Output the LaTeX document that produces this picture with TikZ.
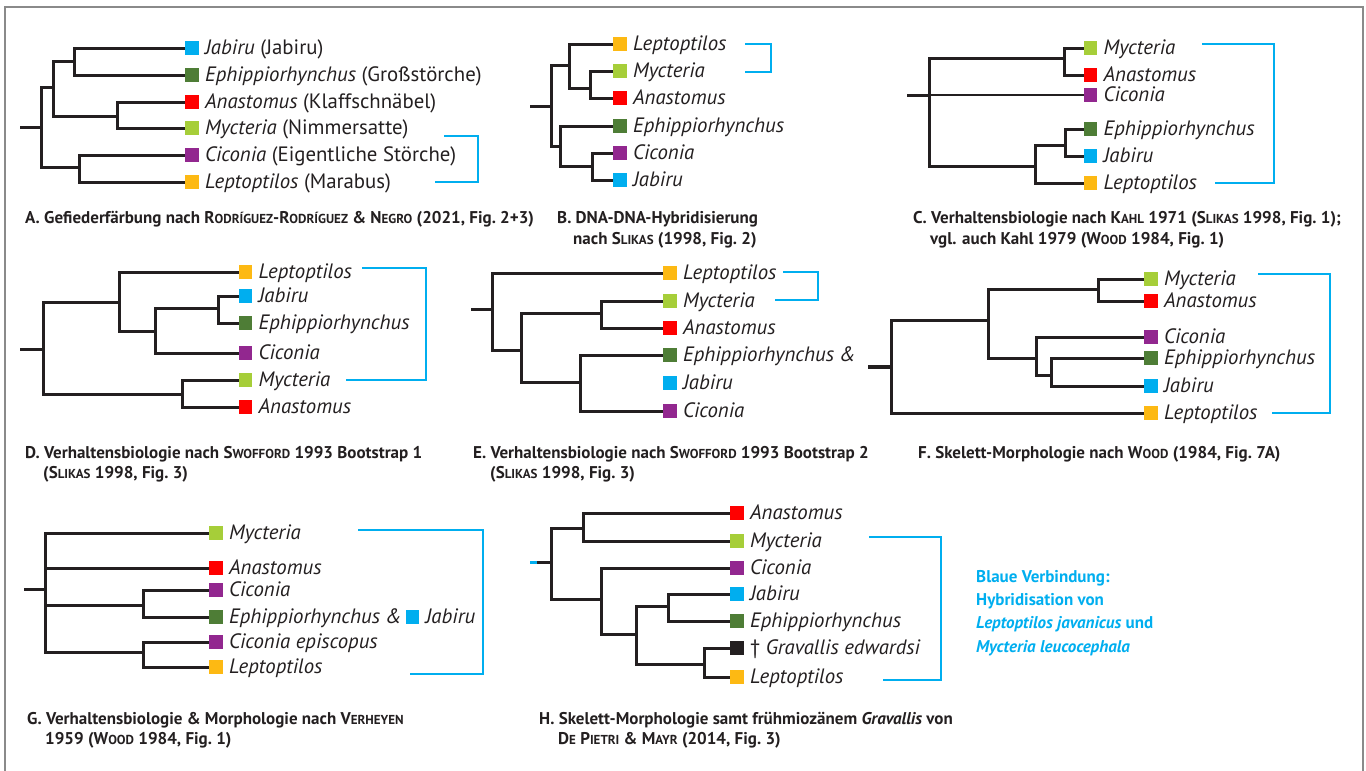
\documentclass[tikz,border=0pt]{standalone}
\usepackage{fontspec}
\setmainfont{PT Sans}
\definecolor{ink}{HTML}{231F20}
\definecolor{cjab}{HTML}{00AEEF}
\definecolor{ceph}{HTML}{4E7D36}
\definecolor{cana}{HTML}{FF0000}
\definecolor{cmyc}{HTML}{A6CE39}
\definecolor{ccic}{HTML}{92278F}
\definecolor{clep}{HTML}{FDB913}
\definecolor{cgra}{HTML}{231F20}
\definecolor{hybblue}{HTML}{00AEEF}
\definecolor{framegray}{HTML}{8A8A8A}
\newcommand\smc[2]{#1{\fontsize{13}{14}\selectfont #2}}
\begin{document}
\begin{tikzpicture}
    [
        x=1pt, y=-1pt,
        sq/.style = {minimum size=13.5pt, inner sep=0pt},
        jab/.style = {sq, fill=cjab},
        eph/.style = {sq, fill=ceph},
        ana/.style = {sq, fill=cana},
        myc/.style = {sq, fill=cmyc},
        cic/.style = {sq, fill=ccic},
        lep/.style = {sq, fill=clep},
        gra/.style = {sq, fill=cgra},
        lab/.style = {inner sep=0pt, anchor=base west, text=ink, font=\fontsize{20.8}{22}\selectfont\itshape},
        br/.style = {line width=3pt, draw=ink},
        hyb/.style = {line width=2.8pt, draw=hybblue},
        capt/.style = {inner sep=0pt, anchor=base west, text=ink, font=\fontsize{17}{20}\selectfont\bfseries},
        legende/.style = {capt, text=hybblue}
    ]
    \useasboundingbox (0,0) rectangle (1366,771);
    \draw[framegray, line width=2pt] (5,771) -- (5,7) -- (1363,7) -- (1363,771);

    % A
    \node[jab] (aJab) at (192,48) {};
    \node[eph] (aEph) at (192,75) {};
    \node[ana] (aAna) at (192,102) {};
    \node[myc] (aMyc) at (192,128) {};
    \node[cic] (aCic) at (192,155) {};
    \node[lep] (aLep) at (192,182) {};
    \node[lab] (aJabT) at ([xshift=6pt]aJab.south east) {Jabiru {\upshape(Jabiru)}};
    \node[lab] (aEphT) at ([xshift=6pt]aEph.south east) {Ephippiorhynchus {\upshape(Großstörche)}};
    \node[lab] (aAnaT) at ([xshift=6pt]aAna.south east) {Anastomus {\upshape(Klaffschnäbel)}};
    \node[lab] (aMycT) at ([xshift=6pt]aMyc.south east) {Mycteria {\upshape(Nimmersatte)}};
    \node[lab] (aCicT) at ([xshift=6pt]aCic.south east) {Ciconia {\upshape(Eigentliche Störche)}};
    \node[lab] (aLepT) at ([xshift=6pt]aLep.south east) {Leptoptilos {\upshape(Marabus)}};
    \coordinate (a0) at (20,127);
    \coordinate (aR) at (41,127);
    \coordinate (a1) at (53,87);
    \coordinate (a2) at (74,61);
    \coordinate (a3) at (117,116);
    \coordinate (a4) at (79,167);
    \draw[br] (a0) -- (aR);
    \draw[br] (aR) |- (a1);
    \draw[br] (aR) |- (a4);
    \draw[br] (a1) |- (a2);
    \draw[br] (a1) |- (a3);
    \draw[br] (a2) |- (aJab);
    \draw[br] (a2) |- (aEph);
    \draw[br] (a3) |- (aAna);
    \draw[br] (a3) |- (aMyc);
    \draw[br] (a4) |- (aCic);
    \draw[br] (a4) |- (aLep);
    \coordinate (aH1) at (444,136);
    \coordinate (aH2) at (435,182);
    \draw[hyb] (aH1) -- ++(34,0) |- (aH2);
    \node[capt] (aCap) at (25,223) {A.~Gefiederfärbung nach \smc{R}{ODRÍGUEZ}-\smc{R}{ODRÍGUEZ} \& \smc{N}{EGRO} (2021, Fig.~2+3)};

    % B
    \node[lep] (bLep) at (620,44) {};
    \node[myc] (bMyc) at (620,71) {};
    \node[ana] (bAna) at (620,98) {};
    \node[eph] (bEph) at (620,126) {};
    \node[cic] (bCic) at (620,153) {};
    \node[jab] (bJab) at (620,180) {};
    \node[lab] (bLepT) at ([xshift=6pt]bLep.south east) {Leptoptilos};
    \node[lab] (bMycT) at ([xshift=6pt]bMyc.south east) {Mycteria};
    \node[lab] (bAnaT) at ([xshift=6pt]bAna.south east) {Anastomus};
    \node[lab] (bEphT) at ([xshift=6pt]bEph.south east) {Ephippiorhynchus};
    \node[lab] (bCicT) at ([xshift=6pt]bCic.south east) {Ciconia};
    \node[lab] (bJabT) at ([xshift=6pt]bJab.south east) {Jabiru};
    \coordinate (b0) at (530,106);
    \coordinate (bR) at (551,106);
    \coordinate (b1) at (569,65);
    \coordinate (b2) at (590,88);
    \coordinate (b3) at (560,146);
    \coordinate (b4) at (592,166);
    \draw[br] (b0) -- (bR);
    \draw[br] (bR) |- (b1);
    \draw[br] (bR) |- (b3);
    \draw[br] (b1) |- (bLep);
    \draw[br] (b1) |- (b2);
    \draw[br] (b2) |- (bMyc);
    \draw[br] (b2) |- (bAna);
    \draw[br] (b3) |- (bEph);
    \draw[br] (b3) |- (b4);
    \draw[br] (b4) |- (bCic);
    \draw[br] (b4) |- (bJab);
    \coordinate (bH1) at (745,44);
    \coordinate (bH2) at (745,72);
    \draw[hyb] (bH1) -- ++(26,0) |- (bH2);
    \node[capt] (bCap1) at (557,223) {B.~DNA-DNA-Hybridisierung};
    \node[capt] (bCap2) at (573,244) {nach \smc{S}{LIKAS} (1998, Fig.~2)};

    % C
    \node[myc] (cMyc) at (1090.5,48) {};
    \node[ana] (cAna) at (1090.5,75) {};
    \node[cic] (cCic) at (1090.5,95) {};
    \node[eph] (cEph) at (1090.5,129) {};
    \node[jab] (cJab) at (1090.5,156) {};
    \node[lep] (cLep) at (1090.5,183) {};
    \node[lab] (cMycT) at ([xshift=6pt]cMyc.south east) {Mycteria};
    \node[lab] (cAnaT) at ([xshift=6pt]cAna.south east) {Anastomus};
    \node[lab] (cCicT) at ([xshift=6pt]cCic.south east) {Ciconia};
    \node[lab] (cEphT) at ([xshift=6pt]cEph.south east) {Ephippiorhynchus};
    \node[lab] (cJabT) at ([xshift=6pt]cJab.south east) {Jabiru};
    \node[lab] (cLepT) at ([xshift=6pt]cLep.south east) {Leptoptilos};
    \coordinate (c0) at (907,95);
    \coordinate (cR) at (929,95);
    \coordinate (c1) at (1064,58);
    \coordinate (c2) at (1035,166);
    \coordinate (c3) at (1065,145);
    \draw[br] (c0) -- (cR);
    \draw[br] (cR) |- (c1);
    \draw[br, line width=2.4pt] (cR) -- (cCic);
    \draw[br] (cR) |- (c2);
    \draw[br] (c1) |- (cMyc);
    \draw[br] (c1) |- (cAna);
    \draw[br] (c2) |- (c3);
    \draw[br] (c2) |- (cLep);
    \draw[br] (c3) |- (cEph);
    \draw[br] (c3) |- (cJab);
    \coordinate (cH1) at (1202,44);
    \coordinate (cH2) at (1215,183);
    \draw[hyb] (cH1) -- ++(72,0) |- (cH2);
    \node[capt] (cCap1) at (913,223) {C.~Verhaltensbiologie nach \smc{K}{AHL} 1971 (\smc{S}{LIKAS} 1998, Fig.~1);};
    \node[capt] (cCap2) at (930,244) {vgl. auch Kahl 1979 (\smc{W}{OOD} 1984, Fig.~1)};

    % D
    \node[lep] (dLep) at (245.5,272) {};
    \node[jab] (dJab) at (245.5,296) {};
    \node[eph] (dEph) at (245.5,323) {};
    \node[cic] (dCic) at (245.5,353) {};
    \node[myc] (dMyc) at (245.5,380) {};
    \node[ana] (dAna) at (245.5,407) {};
    \node[lab] (dLepT) at ([xshift=6pt]dLep.south east) {Leptoptilos};
    \node[lab] (dJabT) at ([xshift=6pt]dJab.south east) {Jabiru};
    \node[lab] (dEphT) at ([xshift=6pt]dEph.south east) {Ephippiorhynchus};
    \node[lab] (dCicT) at ([xshift=6pt]dCic.south east) {Ciconia};
    \node[lab] (dMycT) at ([xshift=6pt]dMyc.south east) {Mycteria};
    \node[lab] (dAnaT) at ([xshift=6pt]dAna.south east) {Anastomus};
    \coordinate (d0) at (20,349);
    \coordinate (dR) at (43,349);
    \coordinate (d1) at (119,302);
    \coordinate (d2) at (155,331);
    \coordinate (d3) at (218,308);
    \coordinate (d4) at (182,394);
    \draw[br] (d0) -- (dR);
    \draw[br] (dR) |- (d1);
    \draw[br] (dR) |- (d4);
    \draw[br] (d1) |- (dLep);
    \draw[br] (d1) |- (d2);
    \draw[br] (d2) |- (d3);
    \draw[br] (d2) |- (dCic);
    \draw[br] (d3) |- (dJab);
    \draw[br] (d3) |- (dEph);
    \draw[br] (d4) |- (dMyc);
    \draw[br] (d4) |- (dAna);
    \coordinate (dH1) at (362,268);
    \coordinate (dH2) at (346,380);
    \draw[hyb] (dH1) -- ++(64,0) |- (dH2);
    \node[capt] (dCap1) at (25,458) {D.~Verhaltensbiologie nach \smc{S}{WOFFORD} 1993 Bootstrap 1};
    \node[capt] (dCap2) at (43,478) {(\smc{S}{LIKAS} 1998, Fig.~3)};

    % E
    \node[lep] (eLep) at (670,273) {};
    \node[myc] (eMyc) at (670,301) {};
    \node[ana] (eAna) at (670,328) {};
    \node[eph] (eEph) at (670,355) {};
    \node[jab] (eJab) at (670,383) {};
    \node[cic] (eCic) at (670,411) {};
    \node[lab] (eLepT) at ([xshift=6pt]eLep.south east) {Leptoptilos};
    \node[lab] (eMycT) at ([xshift=6pt]eMyc.south east) {Mycteria};
    \node[lab] (eAnaT) at ([xshift=6pt]eAna.south east) {Anastomus};
    \node[lab] (eEphT) at ([xshift=6pt]eEph.south east) {Ephippiorhynchus \&};
    \node[lab] (eJabT) at ([xshift=6pt]eJab.south east) {Jabiru};
    \node[lab] (eCicT) at ([xshift=6pt]eCic.south east) {Ciconia};
    \coordinate (e0) at (471,309);
    \coordinate (eR) at (492,309);
    \coordinate (e1) at (521,350);
    \coordinate (e2) at (601,313);
    \coordinate (e3) at (580,382);
    \draw[br] (e0) -- (eR);
    \draw[br] (eR) |- (eLep);
    \draw[br] (eR) |- (e1);
    \draw[br] (e1) |- (e2);
    \draw[br] (e1) |- (e3);
    \draw[br] (e2) |- (eMyc);
    \draw[br] (e2) |- (eAna);
    \draw[br] (e3) |- (eEph);
    \draw[br] (e3) |- (eCic);
    \coordinate (eH1) at (783,272);
    \coordinate (eH2) at (775,300);
    \draw[hyb] (eH1) -- ++(35,0) |- (eH2);
    \node[capt] (eCap1) at (473,458) {E.~Verhaltensbiologie nach \smc{S}{WOFFORD} 1993 Bootstrap 2};
    \node[capt] (eCap2) at (490,478) {(\smc{S}{LIKAS} 1998, Fig.~3)};

    % F
    \node[myc] (fMyc) at (1151,279) {};
    \node[ana] (fAna) at (1151,301) {};
    \node[cic] (fCic) at (1151,337) {};
    \node[eph] (fEph) at (1151,358) {};
    \node[jab] (fJab) at (1151,386) {};
    \node[lep] (fLep) at (1151,413) {};
    \node[lab] (fMycT) at ([xshift=6pt]fMyc.south east) {Mycteria};
    \node[lab] (fAnaT) at ([xshift=6pt]fAna.south east) {Anastomus};
    \node[lab] (fCicT) at ([xshift=6pt]fCic.south east) {Ciconia};
    \node[lab] (fEphT) at ([xshift=6pt]fEph.south east) {Ephippiorhynchus};
    \node[lab] (fJabT) at ([xshift=6pt]fJab.south east) {Jabiru};
    \node[lab] (fLepT) at ([xshift=6pt]fLep.south east) {Leptoptilos};
    \coordinate (f0) at (868,367);
    \coordinate (fR) at (891,367);
    \coordinate (f1) at (988,320);
    \coordinate (f2) at (1098,289);
    \coordinate (f3) at (1036,358);
    \coordinate (f4) at (1051,375);
    \draw[br, line width=3.8pt] (f0) -- (fR);
    \draw[br] (fR) |- (f1);
    \draw[br] (fR) |- (fLep);
    \draw[br] (f1) |- (f2);
    \draw[br] (f1) |- (f3);
    \draw[br] (f2) |- (fMyc);
    \draw[br] (f2) |- (fAna);
    \draw[br] (f3) |- (fCic);
    \draw[br] (f3) |- (f4);
    \draw[br] (f4) |- (fEph);
    \draw[br] (f4) |- (fJab);
    \coordinate (fH1) at (1258,274);
    \coordinate (fH2) at (1272,413);
    \draw[hyb] (fH1) -- ++(72,0) |- (fH2);
    \node[capt] (fCap) at (918,458) {F.~Skelett-Morphologie nach \smc{W}{OOD} (1984, Fig.~7A)};

    % G
    \node[myc] (gMyc) at (216,533) {};
    \node[ana] (gAna) at (216,568) {};
    \node[cic] (gCic) at (216,590) {};
    \node[eph] (gEph) at (216,617) {};
    \node[cic] (gCep) at (216,642) {};
    \node[lep] (gLep) at (216,667) {};
    \node[jab] (gJab) at (412.5,617) {};
    \node[lab] (gMycT) at ([xshift=6pt]gMyc.south east) {Mycteria};
    \node[lab] (gAnaT) at ([xshift=6pt]gAna.south east) {Anastomus};
    \node[lab] (gCicT) at ([xshift=6pt]gCic.south east) {Ciconia};
    \node[lab] (gEphT) at ([xshift=6pt]gEph.south east) {Ephippiorhynchus \&};
    \node[lab] (gCepT) at ([xshift=6pt]gCep.south east) {Ciconia episcopus};
    \node[lab] (gLepT) at ([xshift=6pt]gLep.south east) {Leptoptilos};
    \node[lab] (gJabT) at ([xshift=6pt]gJab.south east) {Jabiru};
    \coordinate (g0) at (24,589);
    \coordinate (gR) at (45,589);
    \coordinate (g1) at (143,605);
    \coordinate (g2) at (143,652);
    \draw[br] (g0) -- (gR);
    \draw[br] (gR) |- (gMyc);
    \draw[br] (gR) |- (gAna);
    \draw[br] (gR) |- (g1);
    \draw[br] (gR) |- (g2);
    \draw[br] (g1) |- (gCic);
    \draw[br] (g1) |- (gEph);
    \draw[br] (g2) |- (gCep);
    \draw[br] (g2) |- (gLep);
    \coordinate (gH1) at (358,530);
    \coordinate (gH2) at (410,674);
    \draw[hyb] (gH1) -- ++(125,0) |- (gH2);
    \node[capt] (gCap1) at (27,724) {G.~Verhaltensbiologie \& Morphologie nach \smc{V}{ERHEYEN}};
    \node[capt] (gCap2) at (45,744) {1959 (\smc{W}{OOD} 1984, Fig.~1)};

    % H
    \node[ana] (hAna) at (737,513) {};
    \node[myc] (hMyc) at (737,541) {};
    \node[cic] (hCic) at (737,568) {};
    \node[jab] (hJab) at (737,594) {};
    \node[eph] (hEph) at (737,621) {};
    \node[gra] (hGra) at (737,648) {};
    \node[lep] (hLep) at (737,677) {};
    \node[lab] (hAnaT) at ([xshift=6pt]hAna.south east) {Anastomus};
    \node[lab] (hMycT) at ([xshift=6pt]hMyc.south east) {Mycteria};
    \node[lab] (hCicT) at ([xshift=6pt]hCic.south east) {Ciconia};
    \node[lab] (hJabT) at ([xshift=6pt]hJab.south east) {Jabiru};
    \node[lab] (hEphT) at ([xshift=6pt]hEph.south east) {Ephippiorhynchus};
    \node[lab] (hGraT) at ([xshift=6pt]hGra.south east) {{\upshape\textdagger} Gravallis edwardsi};
    \node[lab] (hLepT) at ([xshift=6pt]hLep.south east) {Leptoptilos};
    \coordinate (h0) at (530,562);
    \coordinate (hR) at (551,562);
    \coordinate (h1) at (583,528);
    \coordinate (h2) at (601,599);
    \coordinate (h3) at (636,634);
    \coordinate (h4) at (668,606);
    \coordinate (h5) at (704,664);
    \draw[br] (h0) -- (hR);
    \draw[hyb, line width=3pt] (h0) -- ++(7,0);
    \draw[br] (hR) |- (h1);
    \draw[br] (hR) |- (h2);
    \draw[br] (h1) |- (hAna);
    \draw[br] (h1) |- (hMyc);
    \draw[br] (h2) |- (hCic);
    \draw[br] (h2) |- (h3);
    \draw[br] (h3) |- (h4);
    \draw[br] (h3) |- (h5);
    \draw[br] (h4) |- (hJab);
    \draw[br] (h4) |- (hEph);
    \draw[br] (h5) |- (hGra);
    \draw[br] (h5) |- (hLep);
    \coordinate (hH1) at (869,537);
    \coordinate (hH2) at (883,680);
    \draw[hyb] (hH1) -- ++(72,0) |- (hH2);
    \node[capt] (hCap1) at (539,724) {H.~Skelett-Morphologie samt frühmiozänem \textit{Gravallis} von};
    \node[capt] (hCap2) at (558,744) {\smc{D}{E} \smc{P}{IETRI} \& \smc{M}{AYR} (2014, Fig.~3)};

    % Legende
    \node[legende] (n1) at (976,582) {Blaue Verbindung:};
    \node[legende] (n2) at (976,605) {Hybridisation von};
    \node[legende] (n3) at (976,628) {\textit{Leptoptilos javanicus} und};
    \node[legende] (n4) at (976,652) {\textit{Mycteria leucocephala}};
\end{tikzpicture}
\end{document}
